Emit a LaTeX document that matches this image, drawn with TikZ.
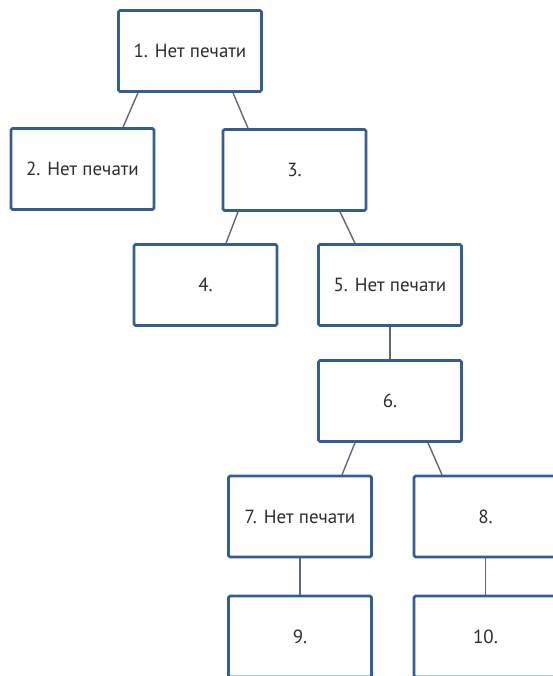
\documentclass[tikz,border=0pt]{standalone}
\usepackage{fontspec}
\setmainfont{PT Sans}
\usetikzlibrary{positioning}
\definecolor{boxblue}{RGB}{52,94,146}
\definecolor{linkgray}{RGB}{95,105,118}
\definecolor{txtgray}{RGB}{45,45,45}

\begin{document}
\begin{tikzpicture}[x=1pt,y=-1pt,
    box/.style={draw=boxblue,line width=2.6pt,fill=white,rounded corners=1.5pt,
      minimum width=143pt,minimum height=81pt,inner sep=0pt,
      text=txtgray,font=\fontsize{19}{22}\selectfont},
    link/.style={draw=linkgray,line width=1.4pt}]
    \useasboundingbox (0,0) rectangle (552,676);
    \node[box] (n1) at (190,51) {1. Нет печати};
    \node[box] (n2) at (82.5,169) {2. Нет печати};
    \node[box] (n3) at (294.5,170) {3.};
    \node[box] (n4) at (205.5,285) {4.};
    \node[box] (n5) at (390,285) {5. Нет печати};
    \node[box] (n6) at (390,401) {6.};
    \node[box] (n7) at (300,516.5) {7. Нет печати};
    \node[box] (n8) at (485.5,516.5) {8.};
    \node[box] (n9) at (300,636.5) {9.};
    \node[box] (n10) at (485.5,636.5) {10.};
    % links between the boxes
    \draw[link]([xshift=-52pt]n1.south)--([xshift=40.5pt]n2.north);
    \draw[link]([xshift=43pt]n1.south)--([xshift=-46.5pt]n3.north);
    \draw[link]([xshift=-56.5pt]n3.south)--([xshift=20.5pt]n4.north);
    \draw[link]([xshift=45.5pt]n3.south)--([xshift=-35pt]n5.north);
    \draw[link](n5.south)--(n6.north);
    \draw[link]([xshift=-35pt]n6.south)--([xshift=42pt]n7.north);
    \draw[link]([xshift=38pt]n6.south)--([xshift=-43.5pt]n8.north);
    \draw[link](n7.south)--(n9.north);
    \draw[link](n8.south)--(n10.north);
  \end{tikzpicture}
\end{document}
